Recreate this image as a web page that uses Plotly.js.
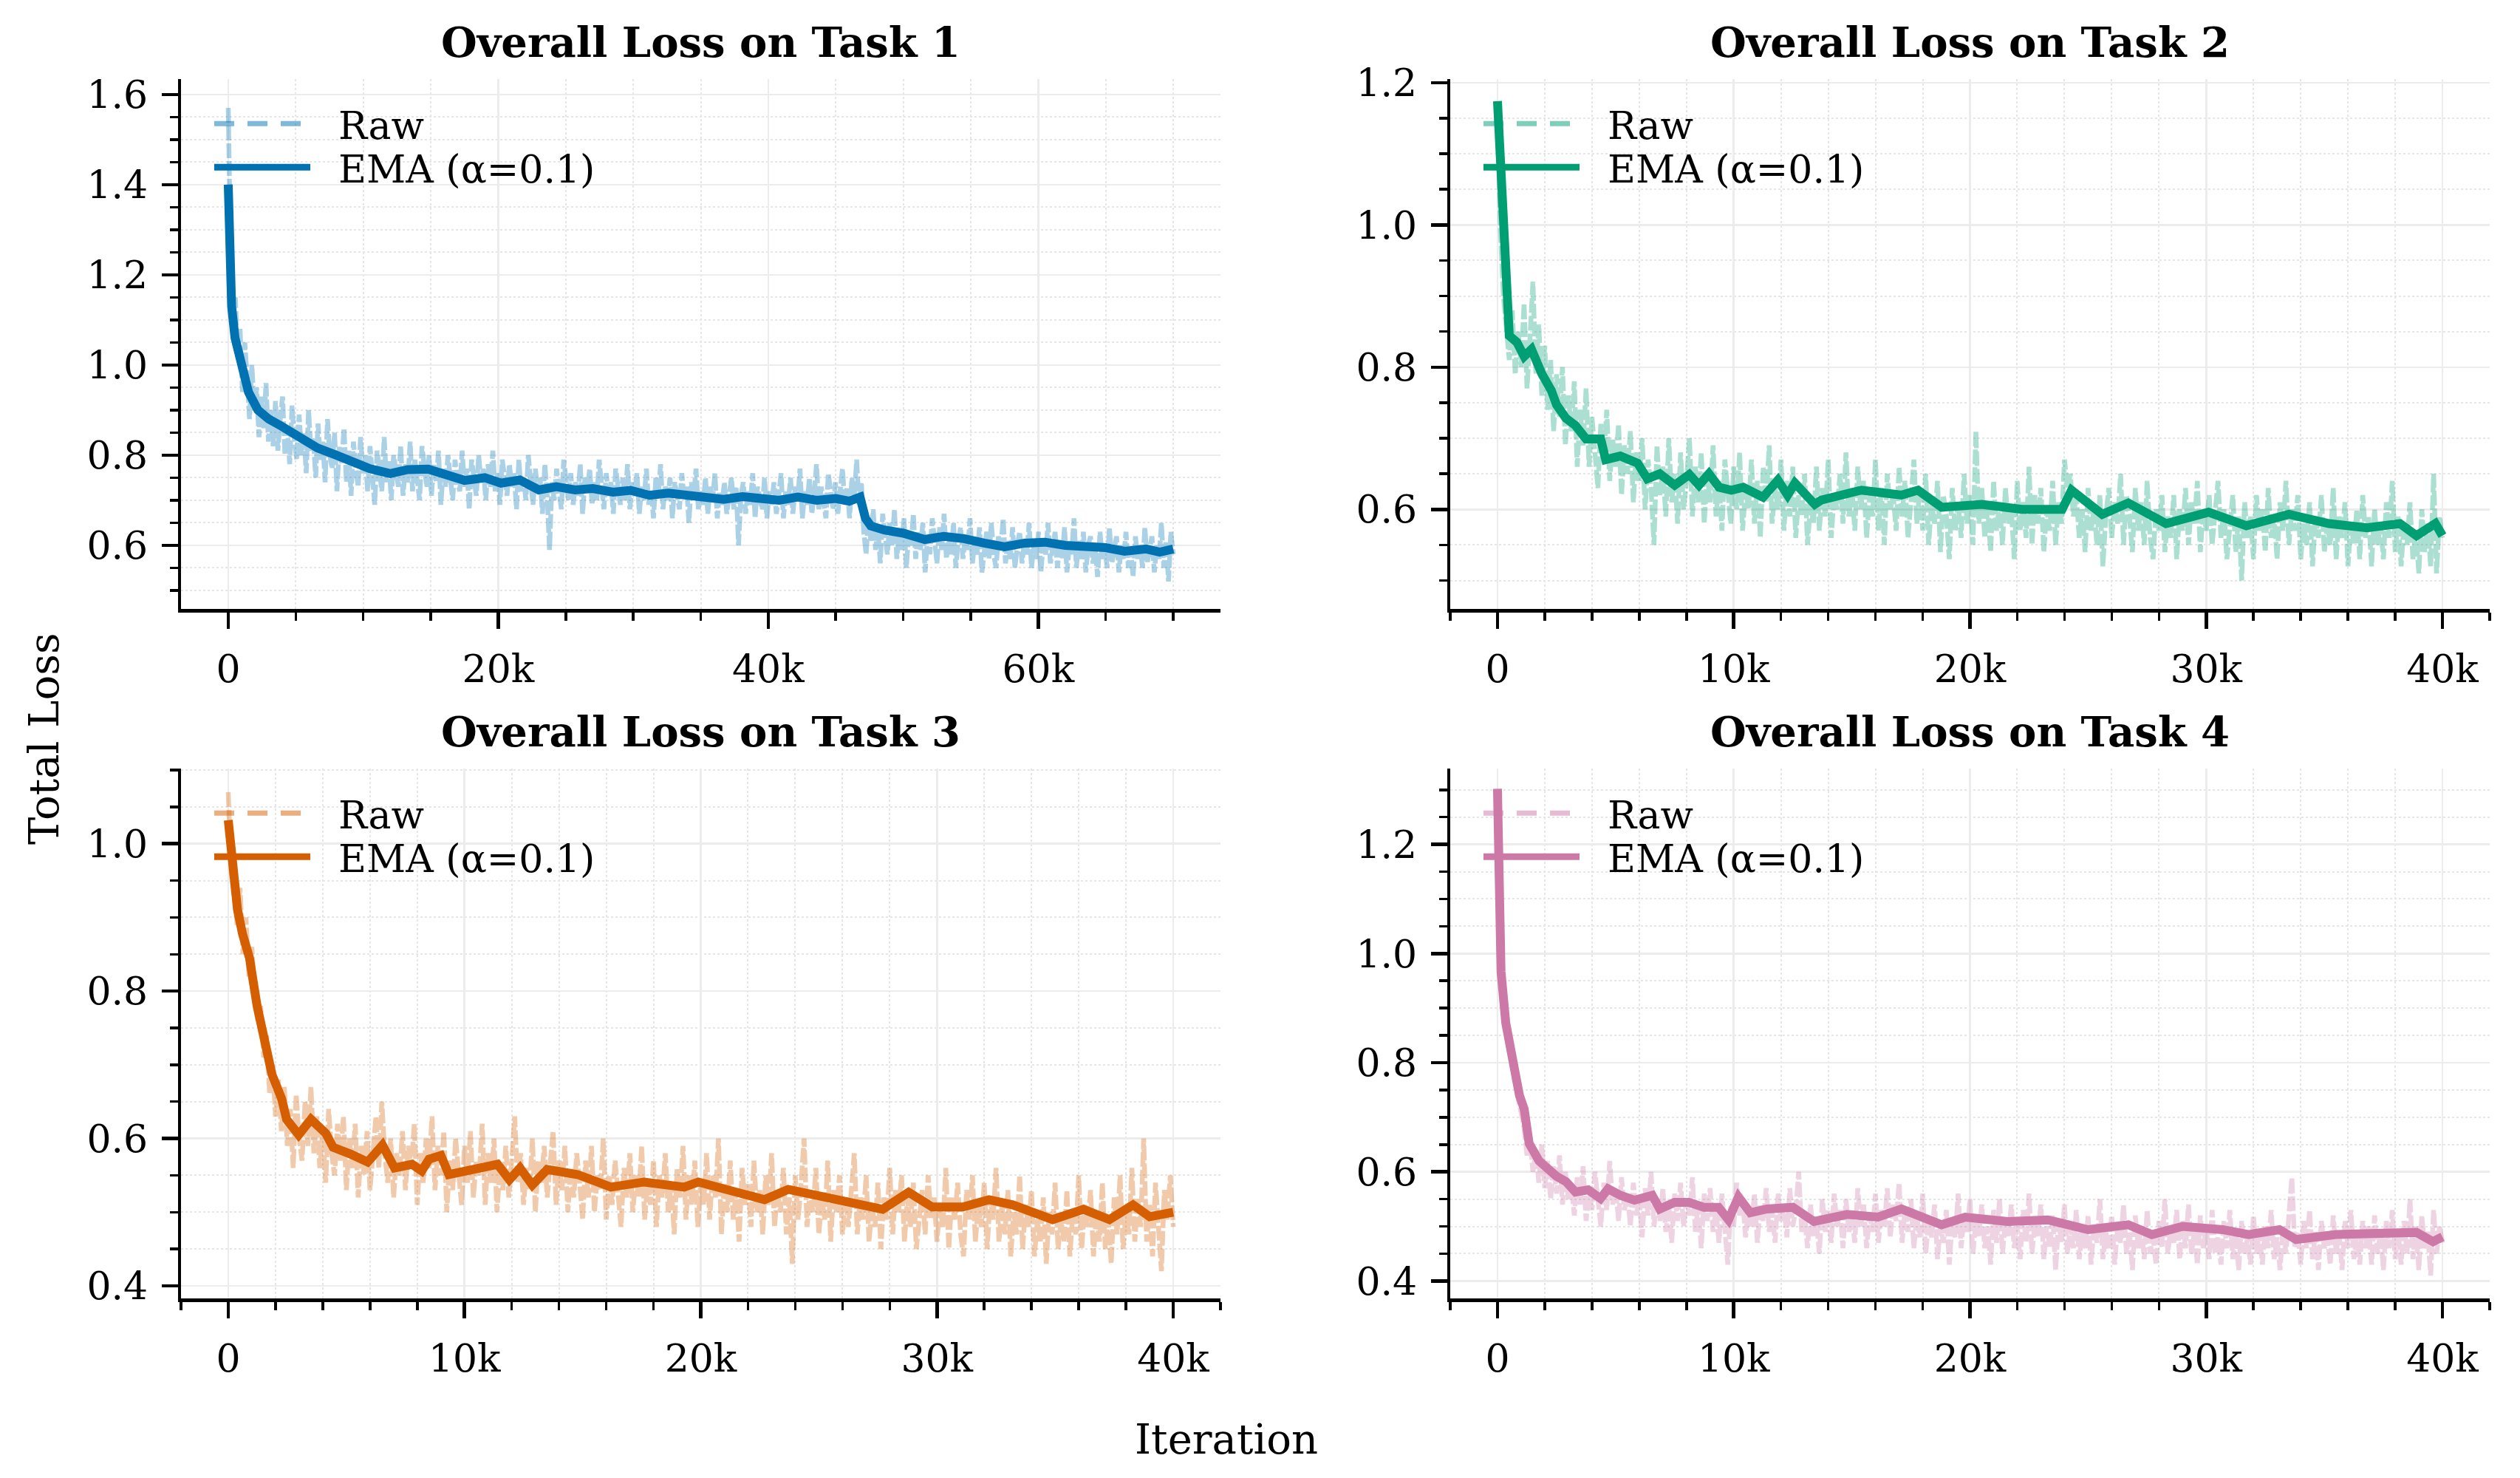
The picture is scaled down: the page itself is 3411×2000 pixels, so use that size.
<!DOCTYPE html>
<html><head><meta charset="utf-8">
<script src="https://cdn.plot.ly/plotly-3.0.1.min.js"></script>
<style>html,body{margin:0;padding:0;background:#fff}#chart{width:3411px;height:2000px}</style>
</head><body><div id="chart"></div>
<script>
// ---------------- data ----------------
const taskTitles = ["Overall Loss on Task 1", "Overall Loss on Task 2", "Overall Loss on Task 3", "Overall Loss on Task 4"];
const xLabel = "Iteration";
const yLabel = "Total Loss";
const legendRaw = "Raw";
const legendEma = "EMA (α=0.1)";

const xTicks1 = [0, 20000, 40000, 60000];
const xTickText1 = ["0", "20k", "40k", "60k"];
const xTicks40 = [0, 10000, 20000, 30000, 40000];
const xTickText40 = ["0", "10k", "20k", "30k", "40k"];

const rawStep1 = 175;   // iterations between raw samples, task 1
const rawStep = 125;    // iterations between raw samples, tasks 2-4

const raw1 = [
1.57,1.25,1.10,1.15,1.02,1.08,0.94,1.05,0.97,0.88,1.00,0.90,0.95,0.84,0.93,0.86,0.96,0.83,0.90,0.82,
0.92,0.81,0.88,0.93,0.80,0.86,0.78,0.91,0.83,0.79,0.89,0.80,0.85,0.76,0.90,0.81,0.84,0.75,0.87,0.79,
0.83,0.74,0.88,0.80,0.77,0.85,0.72,0.82,0.78,0.86,0.74,0.81,0.71,0.83,0.77,0.73,0.84,0.76,0.80,0.72,
0.82,0.75,0.69,0.81,0.77,0.72,0.84,0.74,0.79,0.70,0.80,0.76,0.73,0.82,0.71,0.78,0.74,0.83,0.72,0.79,
0.75,0.70,0.82,0.77,0.73,0.80,0.71,0.78,0.74,0.81,0.69,0.77,0.73,0.80,0.76,0.70,0.79,0.74,0.72,0.81,
0.73,0.77,0.68,0.79,0.75,0.71,0.80,0.74,0.77,0.70,0.78,0.73,0.81,0.72,0.76,0.69,0.79,0.74,0.71,0.78,
0.73,0.76,0.68,0.79,0.72,0.75,0.70,0.80,0.73,0.69,0.77,0.72,0.75,0.67,0.78,0.71,0.59,0.74,0.70,0.77,
0.72,0.68,0.79,0.73,0.70,0.76,0.69,0.74,0.71,0.78,0.67,0.75,0.72,0.77,0.69,0.74,0.70,0.79,0.72,0.68,
0.76,0.71,0.74,0.67,0.77,0.72,0.69,0.75,0.70,0.78,0.68,0.74,0.71,0.76,0.67,0.73,0.70,0.77,0.69,0.72,
0.66,0.75,0.71,0.78,0.68,0.73,0.70,0.75,0.66,0.74,0.71,0.68,0.76,0.70,0.73,0.65,0.74,0.71,0.77,0.68,
0.72,0.69,0.75,0.67,0.73,0.70,0.76,0.66,0.72,0.69,0.74,0.67,0.71,0.75,0.68,0.73,0.60,0.71,0.74,0.67,
0.72,0.69,0.76,0.66,0.73,0.70,0.68,0.75,0.66,0.72,0.69,0.74,0.67,0.71,0.76,0.66,0.72,0.69,0.75,0.67,
0.73,0.70,0.77,0.66,0.72,0.69,0.75,0.67,0.71,0.78,0.68,0.73,0.70,0.66,0.76,0.71,0.68,0.74,0.67,0.72,
0.77,0.69,0.73,0.66,0.75,0.71,0.79,0.69,0.74,0.63,0.58,0.66,0.61,0.68,0.59,0.64,0.56,0.67,0.62,0.58,
0.65,0.60,0.68,0.57,0.63,0.59,0.66,0.55,0.62,0.60,0.67,0.57,0.63,0.59,0.65,0.54,0.62,0.58,0.66,0.60,
0.56,0.64,0.59,0.67,0.57,0.62,0.58,0.65,0.55,0.61,0.64,0.57,0.62,0.59,0.66,0.56,0.61,0.58,0.64,0.54,
0.60,0.63,0.57,0.65,0.58,0.55,0.62,0.59,0.66,0.56,0.61,0.57,0.64,0.55,0.60,0.63,0.56,0.61,0.58,0.65,
0.55,0.60,0.57,0.63,0.54,0.61,0.58,0.65,0.56,0.60,0.63,0.55,0.61,0.57,0.64,0.54,0.60,0.58,0.66,0.55,
0.61,0.57,0.63,0.54,0.60,0.62,0.56,0.59,0.53,0.63,0.57,0.60,0.55,0.64,0.56,0.59,0.62,0.54,0.60,0.57,
0.63,0.55,0.59,0.53,0.62,0.57,0.60,0.55,0.64,0.56,0.59,0.62,0.54,0.60,0.57,0.65,0.55,0.61,0.52,0.63,
0.58];

const raw2 = [
1.17,0.99,0.90,0.86,0.81,0.88,0.79,0.85,0.80,0.89,0.77,0.84,0.92,0.79,0.86,0.76,0.83,0.74,0.81,0.71,
0.79,0.73,0.80,0.69,0.76,0.71,0.78,0.66,0.74,0.69,0.77,0.66,0.73,0.68,0.63,0.72,0.67,0.74,0.64,0.70,
0.66,0.72,0.62,0.69,0.65,0.71,0.61,0.68,0.64,0.70,0.60,0.67,0.63,0.55,0.69,0.62,0.66,0.59,0.70,0.61,
0.65,0.58,0.68,0.60,0.64,0.70,0.59,0.66,0.61,0.68,0.58,0.65,0.61,0.69,0.59,0.64,0.57,0.67,0.62,0.58,
0.66,0.60,0.68,0.57,0.63,0.60,0.67,0.58,0.64,0.56,0.66,0.61,0.69,0.58,0.63,0.60,0.67,0.57,0.64,0.59,
0.66,0.56,0.62,0.59,0.65,0.55,0.61,0.58,0.66,0.57,0.63,0.59,0.67,0.56,0.62,0.60,0.65,0.58,0.68,0.59,
0.63,0.57,0.66,0.60,0.64,0.56,0.62,0.59,0.67,0.57,0.63,0.55,0.65,0.60,0.62,0.57,0.66,0.59,0.64,0.56,
0.61,0.67,0.58,0.63,0.57,0.65,0.55,0.61,0.58,0.64,0.54,0.62,0.59,0.53,0.63,0.57,0.61,0.56,0.65,0.58,
0.62,0.55,0.71,0.58,0.63,0.56,0.60,0.54,0.64,0.57,0.61,0.55,0.63,0.58,0.60,0.53,0.64,0.57,0.61,0.56,
0.66,0.55,0.62,0.58,0.63,0.54,0.60,0.57,0.64,0.55,0.61,0.58,0.67,0.63,0.65,0.59,0.62,0.56,0.60,0.54,
0.63,0.57,0.60,0.55,0.62,0.52,0.59,0.63,0.56,0.61,0.58,0.65,0.55,0.62,0.59,0.54,0.63,0.57,0.61,0.55,
0.64,0.56,0.53,0.60,0.57,0.62,0.54,0.59,0.56,0.62,0.53,0.60,0.57,0.63,0.55,0.61,0.58,0.64,0.54,0.60,
0.57,0.62,0.55,0.59,0.64,0.56,0.60,0.53,0.58,0.62,0.54,0.59,0.50,0.61,0.56,0.59,0.53,0.62,0.57,0.60,
0.54,0.63,0.56,0.59,0.53,0.61,0.57,0.64,0.55,0.60,0.57,0.62,0.53,0.58,0.55,0.61,0.52,0.59,0.56,0.62,
0.54,0.58,0.55,0.63,0.53,0.59,0.56,0.61,0.52,0.58,0.55,0.60,0.53,0.62,0.56,0.59,0.52,0.60,0.55,0.58,
0.53,0.61,0.56,0.64,0.54,0.59,0.52,0.58,0.55,0.61,0.53,0.57,0.51,0.60,0.54,0.58,0.52,0.65,0.51,0.59,
0.56];

const raw3 = [
1.07,0.96,0.93,0.89,0.94,0.85,0.90,0.82,0.86,0.79,0.76,0.78,0.71,0.74,0.66,0.70,0.63,0.68,0.61,0.67,
0.59,0.64,0.56,0.66,0.60,0.57,0.65,0.59,0.67,0.58,0.63,0.56,0.61,0.54,0.64,0.58,0.55,0.62,0.57,0.63,
0.53,0.60,0.56,0.62,0.52,0.59,0.55,0.61,0.53,0.58,0.63,0.56,0.65,0.58,0.54,0.60,0.52,0.58,0.55,0.61,
0.53,0.59,0.56,0.62,0.51,0.58,0.54,0.60,0.56,0.63,0.53,0.59,0.55,0.61,0.50,0.57,0.53,0.60,0.55,0.51,
0.59,0.54,0.61,0.52,0.57,0.55,0.62,0.51,0.58,0.54,0.60,0.50,0.56,0.53,0.59,0.52,0.57,0.63,0.54,0.58,
0.51,0.56,0.53,0.60,0.50,0.57,0.54,0.59,0.52,0.56,0.61,0.51,0.57,0.53,0.59,0.50,0.56,0.52,0.58,0.54,
0.49,0.57,0.52,0.59,0.50,0.55,0.53,0.60,0.49,0.55,0.51,0.57,0.53,0.48,0.56,0.52,0.58,0.50,0.55,0.52,
0.59,0.49,0.54,0.51,0.57,0.48,0.55,0.52,0.58,0.50,0.54,0.47,0.56,0.52,0.59,0.49,0.55,0.51,0.57,0.48,
0.54,0.51,0.58,0.49,0.55,0.52,0.60,0.47,0.54,0.50,0.57,0.49,0.53,0.46,0.56,0.51,0.54,0.48,0.57,0.50,
0.53,0.47,0.55,0.51,0.58,0.48,0.53,0.50,0.56,0.47,0.52,0.43,0.55,0.49,0.54,0.60,0.48,0.53,0.50,0.56,
0.47,0.52,0.49,0.57,0.46,0.53,0.50,0.55,0.47,0.52,0.48,0.54,0.58,0.47,0.52,0.49,0.55,0.46,0.51,0.48,
0.54,0.45,0.52,0.49,0.56,0.47,0.53,0.50,0.55,0.46,0.52,0.48,0.54,0.45,0.50,0.53,0.47,0.55,0.49,0.52,
0.46,0.51,0.48,0.56,0.45,0.52,0.49,0.54,0.47,0.44,0.53,0.49,0.55,0.46,0.51,0.48,0.54,0.45,0.52,0.49,
0.56,0.46,0.51,0.47,0.53,0.44,0.50,0.47,0.55,0.45,0.51,0.48,0.53,0.44,0.49,0.46,0.52,0.43,0.50,0.47,
0.54,0.45,0.49,0.46,0.53,0.44,0.50,0.47,0.55,0.45,0.51,0.48,0.53,0.44,0.50,0.46,0.54,0.45,0.49,0.43,
0.52,0.47,0.55,0.45,0.50,0.47,0.56,0.46,0.52,0.48,0.60,0.46,0.51,0.44,0.54,0.47,0.42,0.53,0.49,0.55,
0.48];

const raw4 = [
1.30,1.00,0.91,0.85,0.82,0.79,0.76,0.74,0.70,0.68,0.63,0.66,0.60,0.64,0.58,0.65,0.57,0.62,0.55,0.61,
0.56,0.63,0.54,0.60,0.55,0.58,0.52,0.59,0.54,0.61,0.51,0.57,0.53,0.60,0.55,0.50,0.58,0.53,0.62,0.54,
0.57,0.51,0.59,0.53,0.56,0.50,0.58,0.52,0.55,0.48,0.57,0.52,0.60,0.50,0.55,0.51,0.57,0.49,0.54,0.47,
0.56,0.51,0.58,0.50,0.55,0.52,0.59,0.49,0.54,0.46,0.56,0.51,0.57,0.49,0.53,0.47,0.56,0.50,0.43,0.54,
0.50,0.58,0.52,0.55,0.48,0.53,0.50,0.56,0.47,0.54,0.51,0.57,0.49,0.53,0.47,0.56,0.51,0.54,0.48,0.57,
0.50,0.53,0.60,0.49,0.52,0.46,0.54,0.48,0.51,0.45,0.55,0.49,0.53,0.47,0.56,0.50,0.53,0.46,0.55,0.49,
0.52,0.47,0.57,0.50,0.54,0.46,0.52,0.49,0.56,0.47,0.53,0.50,0.57,0.48,0.54,0.51,0.58,0.47,0.53,0.49,
0.55,0.46,0.52,0.48,0.56,0.45,0.51,0.48,0.54,0.44,0.50,0.47,0.53,0.43,0.51,0.48,0.56,0.46,0.52,0.49,
0.55,0.45,0.51,0.48,0.54,0.46,0.50,0.43,0.53,0.47,0.55,0.45,0.51,0.48,0.54,0.46,0.50,0.44,0.53,0.47,
0.56,0.45,0.51,0.48,0.54,0.44,0.50,0.46,0.52,0.42,0.51,0.47,0.54,0.45,0.50,0.46,0.53,0.44,0.49,0.46,
0.52,0.43,0.50,0.47,0.55,0.44,0.49,0.46,0.52,0.43,0.50,0.47,0.54,0.45,0.49,0.42,0.52,0.46,0.50,0.44,
0.53,0.45,0.48,0.43,0.51,0.46,0.55,0.45,0.50,0.47,0.53,0.44,0.51,0.46,0.54,0.45,0.49,0.43,0.52,0.46,
0.50,0.44,0.53,0.45,0.48,0.43,0.51,0.46,0.53,0.44,0.49,0.42,0.51,0.45,0.48,0.43,0.52,0.45,0.49,0.43,
0.50,0.46,0.53,0.44,0.48,0.42,0.50,0.45,0.52,0.59,0.46,0.49,0.43,0.51,0.46,0.53,0.44,0.49,0.42,0.51,
0.46,0.48,0.43,0.52,0.45,0.49,0.42,0.51,0.46,0.53,0.44,0.48,0.43,0.51,0.46,0.50,0.43,0.52,0.45,0.49,
0.42,0.51,0.46,0.53,0.44,0.49,0.43,0.51,0.45,0.55,0.44,0.50,0.42,0.52,0.46,0.49,0.41,0.53,0.45,0.50,
0.47];

const emaX1 = [0,100,250,500,1000,1500,2200,3000,3960,5000,6600,8000,9300,10500,12000,13300,14800,16200,17500,19000,
20200,21600,23000,24300,25700,27000,28500,29800,31200,32600,34000,35300,36700,38100,39500,40800,42200,43600,45000,46000,
46800,47200,47600,48600,50000,51600,53000,54500,56000,57500,59000,60500,62000,63400,65000,66400,68000,69000,70000];
const emaY1 = [1.40,1.20,1.13,1.06,1.00,0.94,0.90,0.88,0.864,0.843,0.816,0.80,0.785,0.77,0.759,0.768,0.769,0.755,0.744,0.75,
0.738,0.745,0.723,0.73,0.723,0.726,0.718,0.722,0.711,0.716,0.711,0.705,0.702,0.708,0.702,0.700,0.707,0.700,0.704,0.698,
0.707,0.660,0.643,0.634,0.627,0.613,0.620,0.615,0.605,0.597,0.605,0.607,0.600,0.597,0.595,0.587,0.592,0.585,0.592];

const emaX2 = [0,146,302,500,820,1130,1440,1870,2280,2500,2900,3300,3750,4370,4580,5200,5930,6340,6870,7500,
8120,8530,8950,9380,9900,10400,11240,11870,12280,12590,13430,13700,15400,17100,17800,18800,20500,22200,23900,24300,
25600,26700,28300,30100,31700,33500,35200,36800,38200,38900,39700,40000];
const emaY2 = [1.174,1.067,0.922,0.844,0.835,0.815,0.825,0.791,0.767,0.747,0.728,0.718,0.699,0.699,0.670,0.675,0.665,0.643,0.650,0.634,
0.649,0.634,0.650,0.631,0.627,0.631,0.617,0.641,0.620,0.637,0.607,0.613,0.627,0.620,0.627,0.603,0.607,0.600,0.600,0.627,
0.593,0.609,0.580,0.596,0.577,0.593,0.580,0.574,0.580,0.563,0.580,0.563];

const emaX3 = [0,130,390,600,900,1220,1530,1850,2260,2470,2980,3500,4130,4440,5170,5900,6530,7040,7780,8190,
8500,9000,9340,10400,11400,11900,12350,12870,13500,14800,16200,17600,19300,19900,21000,22700,23700,24700,26000,27700,
28800,29800,31100,32200,33200,34900,36200,37300,38300,39000,40000];
const emaY3 = [1.032,0.981,0.911,0.878,0.845,0.780,0.733,0.687,0.654,0.626,0.605,0.626,0.607,0.588,0.579,0.568,0.591,0.560,0.565,0.556,
0.572,0.577,0.551,0.558,0.565,0.544,0.560,0.537,0.558,0.551,0.534,0.541,0.534,0.541,0.531,0.517,0.531,0.524,0.517,0.504,
0.527,0.507,0.507,0.517,0.510,0.490,0.504,0.490,0.510,0.494,0.500];

const emaX4 = [0,30,150,350,600,930,1130,1340,1760,2070,2490,2900,3300,3840,4360,4680,5200,5800,6550,6870,
7490,8100,8740,9360,9780,10200,10700,11400,12500,13400,14800,16100,17100,18800,19800,21600,23300,25000,26700,27700,
29000,30700,31800,33100,33800,35500,37500,38900,39600,40000];
const emaY4 = [1.302,1.157,0.967,0.873,0.809,0.740,0.715,0.652,0.620,0.607,0.592,0.582,0.563,0.567,0.551,0.569,0.557,0.548,0.557,0.532,
0.544,0.544,0.535,0.535,0.512,0.554,0.525,0.532,0.535,0.509,0.522,0.517,0.532,0.503,0.517,0.509,0.512,0.494,0.503,0.485,
0.500,0.494,0.485,0.494,0.476,0.485,0.485,0.489,0.472,0.481];

// ---------------- styling ----------------
const FONT = "DejaVu Serif";
const colors = [[0,114,178],[0,158,115],[213,94,0],[204,121,167]];
const rgba = (c,a) => `rgba(${c[0]},${c[1]},${c[2]},${a})`;

const panels = [
  {raw: raw1, step: rawStep1, ex: emaX1, ey: emaY1, xr: [-3500,73500], yr: [0.459,1.634], tv: xTicks1, tt: xTickText1, xminor: 5000,
   xd: [245/3411, 1652/3411], top: 107, bottom: 824},
  {raw: raw2, step: rawStep, ex: emaX2, ey: emaY2, xr: [-2000,42000], yr: [0.46,1.205], tv: xTicks40, tt: xTickText40, xminor: 2000,
   xd: [1963/3411, 3370/3411], top: 107, bottom: 824},
  {raw: raw3, step: rawStep, ex: emaX3, ey: emaY3, xr: [-2000,42000], yr: [0.383,1.102], tv: xTicks40, tt: xTickText40, xminor: 2000,
   xd: [245/3411, 1652/3411], top: 1040, bottom: 1757},
  {raw: raw4, step: rawStep, ex: emaX4, ey: emaY4, xr: [-2000,42000], yr: [0.368,1.339], tv: xTicks40, tt: xTickText40, xminor: 2000,
   xd: [1963/3411, 3370/3411], top: 1040, bottom: 1757},
];

const traces = [];
const layout = {
  width: 3411, height: 2000,
  margin: {l:0, r:0, t:0, b:0},
  paper_bgcolor: "#fff", plot_bgcolor: "#fff",
  font: {family: FONT, color: "#000", size: 50},
  annotations: [],
};

const NB = "\u00a0\u00a0";
panels.forEach((p, k) => {
  const n = k + 1;
  const xa = n === 1 ? "x" : "x" + n;
  const ya = n === 1 ? "y" : "y" + n;
  const lgRaw = k === 0 ? "legend" : "legend" + (2 * k + 1);
  const lgEma = "legend" + (2 * k + 2);
  const c = colors[k];
  const rx = p.raw.map((_, i) => i * p.step);
  const yd = [1 - p.bottom / 2000, 1 - p.top / 2000];
  traces.push({type: "scatter", mode: "lines", x: rx, y: p.raw, xaxis: xa, yaxis: ya,
    line: {color: rgba(c, 0.33), width: 6.5, dash: "20px,4px"}, showlegend: false, hoverinfo: "skip"});
  traces.push({type: "scatter", mode: "lines", x: p.ex, y: p.ey, xaxis: xa, yaxis: ya,
    line: {color: rgba(c, 1), width: 12}, showlegend: false, hoverinfo: "skip"});
  // legend entries
  traces.push({type: "scatter", mode: "lines", x: [null], y: [null], xaxis: xa, yaxis: ya, name: NB + legendRaw, legend: lgRaw,
    line: {color: rgba(c, 0.5), width: 7, dash: "27px,18px"}});
  traces.push({type: "scatter", mode: "lines", x: [null], y: [null], xaxis: xa, yaxis: ya, name: NB + legendEma, legend: lgEma,
    line: {color: rgba(c, 1), width: 9}});

  const axCommon = {
    showline: true, linecolor: "#000", linewidth: 4.5, mirror: false, zeroline: false,
    ticks: "outside", ticklen: 22, tickwidth: 4.5, tickcolor: "#000",
    showgrid: true, gridcolor: "#ececec", gridwidth: 2.5,
    tickfont: {family: FONT, size: 52, color: "#000"},
  };
  layout["xaxis" + (n === 1 ? "" : n)] = Object.assign({}, axCommon, {
    domain: p.xd, anchor: ya, range: p.xr, tickmode: "array", tickvals: p.tv, ticktext: p.tt,
    ticklabelstandoff: 10,
    minor: {dtick: p.xminor, tick0: 0, ticks: "outside", ticklen: 11, tickwidth: 3.5, tickcolor: "#000",
            showgrid: true, gridcolor: "#e6e6e6", griddash: "dot", gridwidth: 2},
  });
  layout["yaxis" + (n === 1 ? "" : n)] = Object.assign({}, axCommon, {
    domain: yd, anchor: xa, range: p.yr, dtick: 0.2, tick0: 0, tickformat: ".1f",
    ticklabelstandoff: 8,
    minor: {dtick: 0.05, tick0: 0, ticks: "outside", ticklen: 11, tickwidth: 3.5, tickcolor: "#000",
            showgrid: true, gridcolor: "#e6e6e6", griddash: "dot", gridwidth: 2},
  });
  const legBase = {
    x: (p.xd[0] * 3411 + 40) / 3411, xanchor: "left", yanchor: "top",
    bgcolor: "rgba(0,0,0,0)", borderwidth: 0, itemwidth: 130,
    font: {family: FONT, size: 52, color: "#000"},
  };
  layout[lgRaw] = Object.assign({}, legBase, {y: 1 - (p.top + 20) / 2000});
  layout[lgEma] = Object.assign({}, legBase, {y: 1 - (p.top + 79) / 2000});
  layout.annotations.push({
    text: "<b>" + taskTitles[k] + "</b>", xref: "paper", yref: "paper",
    x: (p.xd[0] + p.xd[1]) / 2, y: 1 - (p.top - 50) / 2000, xanchor: "center", yanchor: "middle",
    showarrow: false, font: {family: FONT, size: 56, color: "#000"},
  });
});

layout.annotations.push({text: yLabel, xref: "paper", yref: "paper", x: 59/3411, y: 0.5,
  xanchor: "center", yanchor: "middle", textangle: -90, showarrow: false, font: {family: FONT, size: 56, color: "#000"}});
layout.annotations.push({text: xLabel, xref: "paper", yref: "paper", x: 1660/3411, y: 1 - 1947/2000,
  xanchor: "center", yanchor: "middle", showarrow: false, font: {family: FONT, size: 56, color: "#000"}});

Plotly.newPlot("chart", traces, layout, {displayModeBar: false, staticPlot: true});
</script>
</body></html>
